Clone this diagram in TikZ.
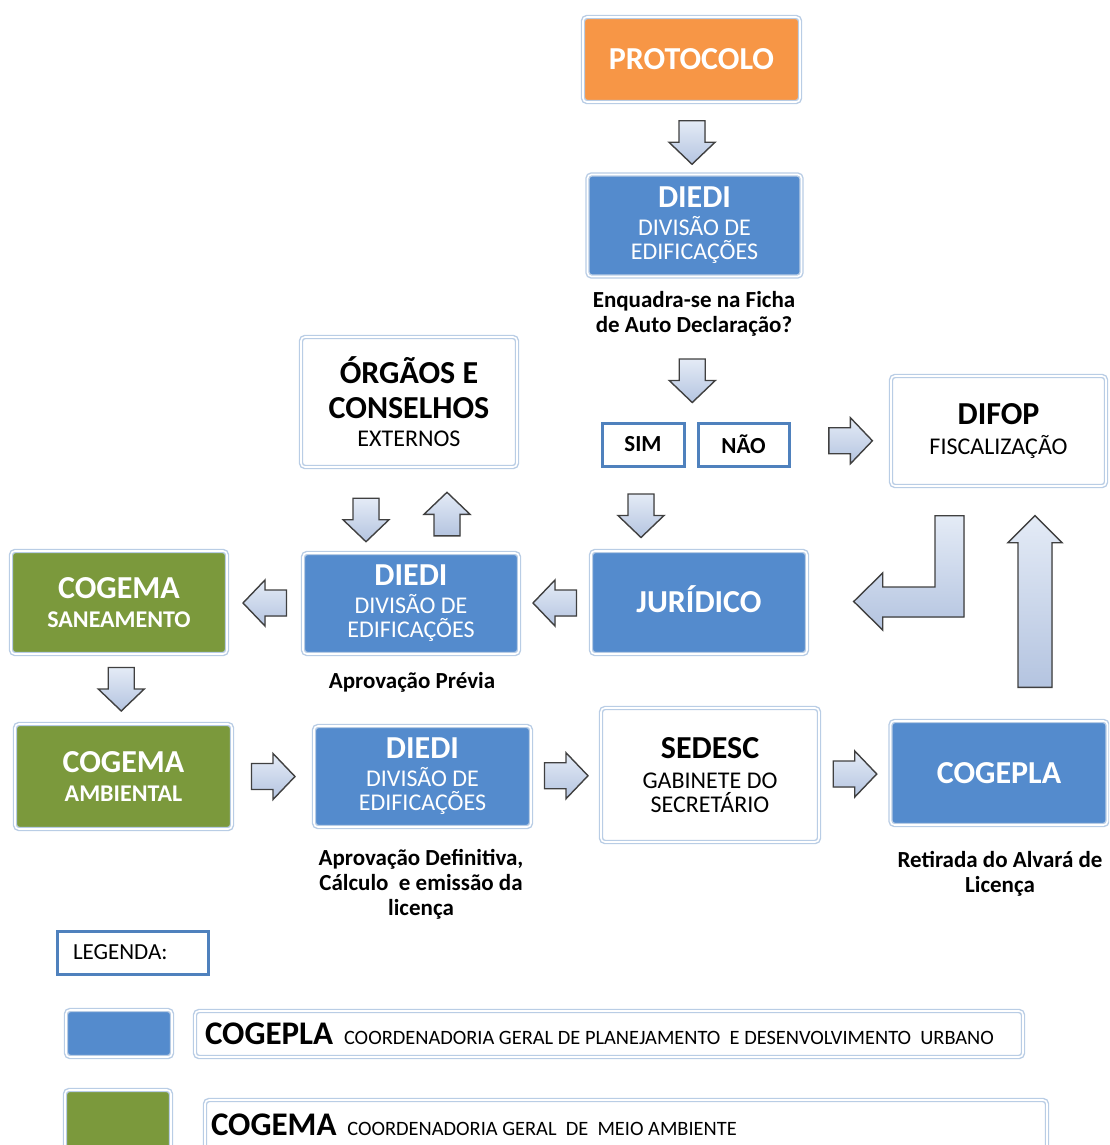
\documentclass[tikz,border=0pt]{standalone}
\usepackage{fontspec}
\setmainfont{Carlito}
\usepackage{tikz}
\usetikzlibrary{calc}
\definecolor{cpblue}{RGB}{84,139,205}
\definecolor{cmgreen}{RGB}{123,153,60}
\definecolor{ptorange}{RGB}{247,150,70}
\definecolor{glowblue}{RGB}{185,205,229}
\definecolor{edgeblue}{RGB}{79,129,189}
\definecolor{arrowfill}{RGB}{180,196,224}
\definecolor{arrowlight}{RGB}{228,235,246}
\definecolor{arrowedge}{RGB}{64,64,64}
\newcommand\ttlsize{\fontsize{16}{18}\selectfont\bfseries}
\newcommand\subsize{\fontsize{12}{12}\selectfont}
\newcommand\notesize{\fontsize{11.5}{12.5}\selectfont}

\begin{document}
\begin{tikzpicture}[x=0.5pt, y=-0.5pt,
  box/.style={rounded corners=2pt, draw=glowblue, double=white, double distance=0.8pt, line width=0.7pt, align=center, inner sep=0pt, font=\subsize},
  bluebox/.style={box, fill=cpblue, text=white},
  greenbox/.style={box, fill=cmgreen, text=white},
  whitebox/.style={box, fill=white, text=black},
  orangebox/.style={box, fill=ptorange, text=white},
  choice/.style={draw=edgeblue, line width=1.5pt, fill=white, minimum height=21.5pt, inner sep=0pt, font=\notesize\bfseries},
  note/.style={align=center, font=\notesize\bfseries},
  arrowbody/.style={draw=arrowedge, line width=0.7pt, top color=arrowlight, bottom color=arrowfill},
  fatarrow/.pic={\filldraw[arrowbody] (-13,-21.5) -- (13,-21.5) -- (13,0) -- (23,0) -- (0,22) -- (-23,0) -- (-13,0) -- cycle;}
]
\useasboundingbox (0,0) rectangle (1109,1145);
\clip (0,0) rectangle (1109,1145);

% Entrada
\node[orangebox, minimum width=108.5pt, minimum height=42.5pt] (protocolo) at (691.5,59.5) {\ttlsize PROTOCOLO};
\node[bluebox, minimum width=107pt, minimum height=51pt] (diedi1) at (694.5,225.5) {{\ttlsize DIEDI}\\[2pt] DIVISÃO DE\\EDIFICAÇÕES};
\node[note] (quest) at (694,314) {Enquadra-se na Ficha\\de Auto Declaração?};

% Sim / Nao
\node[choice, minimum width=41pt] (sim) at (643,444.5) {SIM};
\node[choice, minimum width=45.5pt] (nao) at (743.5,444.5) {NÃO};
\node[whitebox, minimum width=107.5pt, minimum height=55pt] (difop) at (998.5,431) {{\ttlsize DIFOP}\\[3pt] FISCALIZAÇÃO};

% Linha do meio
\node[bluebox, minimum width=108pt, minimum height=51.5pt] (juridico) at (699,602.5) {\ttlsize JURÍDICO\rule[-3pt]{0pt}{1pt}};
\node[whitebox, minimum width=108pt, minimum height=65pt] (orgaos) at (409,402) {{\ttlsize ÓRGÃOS E}\\[5.5pt]{\ttlsize CONSELHOS}\\[2pt] EXTERNOS};
\node[bluebox, minimum width=108pt, minimum height=50.5pt] (diedi2) at (411,603.5) {{\ttlsize DIEDI}\\[2pt] DIVISÃO DE\\EDIFICAÇÕES};
\node[greenbox, minimum width=108pt, minimum height=51.5pt] (cogemasan) at (119,602.5) {{\ttlsize COGEMA}\\[2.5pt]{\bfseries SANEAMENTO}};
\node[note] (previa) at (412,682) {Aprovação Prévia};

% Linha de baixo
\node[greenbox, minimum width=108.5pt, minimum height=52.5pt] (cogemaamb) at (123.5,776.5) {{\ttlsize COGEMA}\\[2.5pt]{\bfseries AMBIENTAL}};
\node[bluebox, minimum width=108.5pt, minimum height=50.5pt] (diedi3) at (422.5,776.5) {{\ttlsize DIEDI}\\[2pt] DIVISÃO DE\\EDIFICAÇÕES};
\node[whitebox, minimum width=109pt, minimum height=67pt] (sedesc) at (710,775) {{\ttlsize SEDESC}\\[3pt] GABINETE DO\\SECRETÁRIO};
\node[bluebox, minimum width=108.5pt, minimum height=52pt] (cogepla) at (999,773) {\ttlsize COGEPLA};
\node[note] (definitiva) at (421,884) {Aprovação Definitiva,\\Cálculo\ \ e emissão da\\licença};
\node[note] (retirada) at (1000,874) {Retirada do Alvará de\\Licença};

% Setas
\pic at ($(protocolo.south)!0.5!(diedi1.north)+(-1,4)$) {fatarrow};
\pic at ($(sim.north)!0.5!(nao.north)+(-1,-41)$) {fatarrow};
\pic[rotate=90] at ($(nao.east)!0.5!(difop.west)+(10,3)$) {fatarrow};
\pic at ($(sim.south)+(-2,48)$) {fatarrow};
\pic at ($(orgaos.south)+(-43,52)$) {fatarrow};
\pic[rotate=180] at ($(diedi2.north)+(36,-38)$) {fatarrow};
\pic[rotate=-90] at ($(juridico.west)!0.5!(diedi2.east)$) {fatarrow};
\pic[rotate=-90] at ($(diedi2.west)!0.5!(cogemasan.east)$) {fatarrow};
\pic at ($(cogemasan.south)!0.5!(cogemaamb.north)$) {fatarrow};
\pic[rotate=90] at ($(cogemaamb.east)!0.5!(diedi3.west)$) {fatarrow};
\pic[rotate=90] at ($(diedi3.east)!0.5!(sedesc.west)$) {fatarrow};
\pic[rotate=90] at ($(sedesc.east)!0.5!(cogepla.west)$) {fatarrow};

% DIFOP -> JURIDICO (seta em L)
\coordinate (ltop) at ($(difop.south)+(-49,29)$);
\coordinate (ltip) at ($(juridico.east)+(46,-1)$);
\filldraw[arrowbody] ($(ltop)+(-14.5,0)$) -- ($(ltop)+(14.5,0)$) |- ($(ltip)+(29,15.5)$)
  -- ($(ltip)+(29,28.5)$) -- (ltip) -- ($(ltip)+(29,-28.5)$) -- ($(ltip)+(29,-14.5)$)
  -| ($(ltop)+(-14.5,0)$) -- cycle;

% COGEPLA -> DIFOP
\coordinate (uptip) at ($(difop.south)+(36.5,29)$);
\coordinate (upfoot) at ($(cogepla.north)+(36,-33)$);
\filldraw[arrowbody] ($(upfoot)+(-17,0)$) -- ($(uptip)+(-17,27)$) -- ($(uptip)+(-27,27)$) -- (uptip)
  -- ($(uptip)+(27,27)$) -- ($(uptip)+(17,27)$) -- ($(upfoot)+(17,0)$) -- cycle;

% Legenda
\node[choice, text width=59.5pt, inner xsep=8pt, align=flush left, font=\fontsize{11.5}{12}\selectfont] (legenda) at (132.5,952.5) {LEGENDA:};
\node[bluebox, minimum width=53pt, minimum height=23.5pt] (swblue) at (119,1033.5) {};
\node[whitebox, minimum height=23pt, text width=404pt, inner xsep=5pt, align=flush left] (legblue) at (609,1034)
  {\mbox{{\fontsize{16.5}{18}\selectfont\bfseries COGEPLA}\ \ {\fontsize{10.2}{11}\selectfont COORDENADORIA GERAL DE PLANEJAMENTO\ \ E DESENVOLVIMENTO\ \ URBANO}}};
\node[greenbox, minimum width=53pt, minimum height=30pt] (swgreen) at (118,1120) {};
\node[whitebox, minimum height=25pt, text width=415pt, inner xsep=3pt, align=flush left] (leggreen) at (626,1125)
  {\mbox{{\fontsize{16.5}{18}\selectfont\bfseries COGEMA}\ \ {\fontsize{10.2}{11}\selectfont COORDENADORIA GERAL\ \ DE\ \ MEIO AMBIENTE}}};
\end{tikzpicture}
\end{document}
